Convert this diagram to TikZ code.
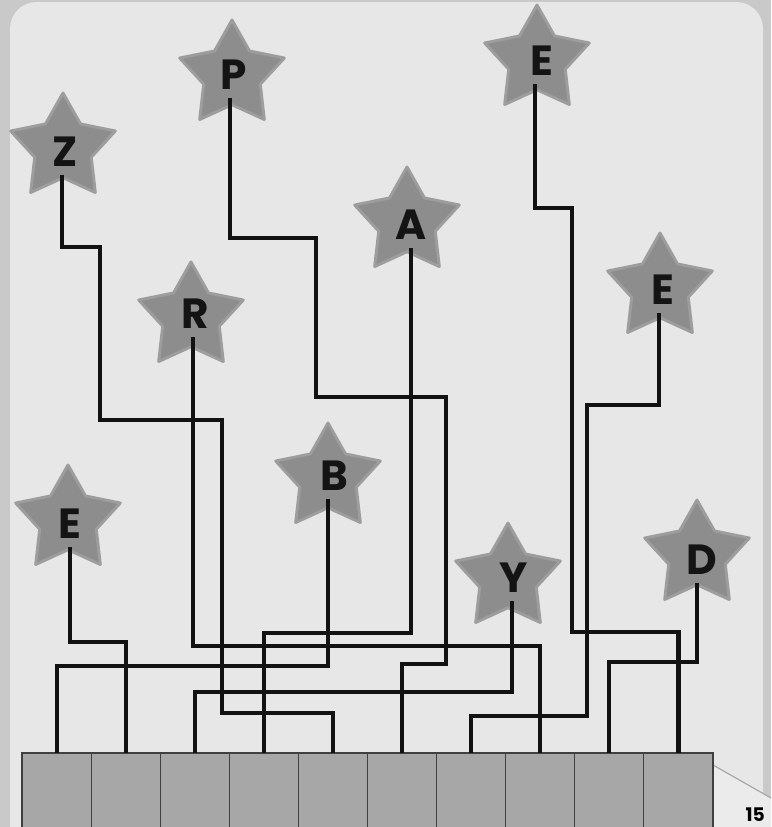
\documentclass[tikz,border=0pt]{standalone}
\usepackage{fontspec}
\usepackage{tikz}
\usetikzlibrary{shapes.geometric,positioning}
\newfontfamily\starfont{Poppins}
\definecolor{paper}{HTML}{E7E7E7}
\definecolor{frame}{HTML}{C9C9C9}
\definecolor{stargray}{HTML}{8D8D8D}
\definecolor{slotgray}{HTML}{A7A7A7}
\tikzset{
  every picture/.style={line join=miter},
  starbg/.style={star, star points=5, star point ratio=1.85, fill=stargray, draw=stargray!82!paper, line width=2.5pt, line join=round, minimum size=3.3cm, inner sep=0pt},
  letter/.style={font=\starfont\bfseries\fontsize{36}{36}\selectfont, text=black!92, text depth=0pt, inner sep=0pt},
  wire/.style={line width=3.5pt, black!93, shorten <=0.24cm},
  slot/.style={draw=black!75, line width=0.9pt, fill=slotgray, minimum width=2.073cm, minimum height=2.7cm, anchor=north, inner sep=0pt, outer sep=0pt},
}
\begin{document}
\begin{tikzpicture}[x=0.03cm,y=-0.03cm]
\useasboundingbox (0,0) rectangle (771,827);
\clip (0,0) rectangle (771,827);
\fill[frame] (0,0) rectangle (771,827);
\fill[paper, rounded corners=0.8cm] (10,2) rectangle (763,900);
\fill[white!92!black] (713,765) -- (771,798) -- (771,827) -- (713,827) -- cycle;
\draw[black!35, line width=1pt] (713,765) -- (771,798);

\node[starbg] (sP) at (232,75) {};
\node[starbg] (sZ) at (63,148) {};
\node[starbg] (sE3) at (537,60) {};
\node[starbg] (sA) at (407,222) {};
\node[starbg] (sE2) at (660,288) {};
\node[starbg] (sR) at (191,317) {};
\node[starbg] (sB) at (328,478) {};
\node[starbg] (sE1) at (68,520) {};
\node[starbg] (sY) at (508,578) {};
\node[starbg] (sD) at (697,555) {};

\node[letter] (lP) at (234,75) {P};
\node[letter] (lZ) at (65,152) {Z};
\node[letter] (lE3) at (542,61) {E};
\node[letter] (lA) at (411,225) {A};
\node[letter] (lE2) at (663,290) {E};
\node[letter] (lR) at (195,314) {R};
\node[letter] (lB) at (334,476) {B};
\node[letter] (lE1) at (70,524) {E};
\node[letter] (lY) at (514,578) {Y};
\node[letter] (lD) at (702,560) {D};

\foreach \i in {1,...,10}
  \node[slot] (b\i) at ({22+69.1*(\i-0.5)},753) {};

\draw[wire] ([xshift=-0.09cm]lZ.south) |- (100,247) |- (222,420) -- (222,713) -| (b5.north);
\draw[wire] ([xshift=-0.12cm]lP.south) |- (316,238) |- (446,397) -- (446,664) -| (b6.north);
\draw[wire] ([xshift=-0.21cm]lE3.south) |- (572,208) -- (572,632) -| (b10.north);
\draw[wire] (lA.south) |- (411,633) -| (b4.north);
\draw[wire] ([xshift=-0.12cm]lE2.south) |- (587,405) -- (587,716) -| (b7.north);
\draw[wire] ([xshift=-0.06cm]lR.south) |- (193,646) -| (b8.north);
\draw[wire] ([xshift=-0.18cm]lB.south) |- (328,666) -| (b1.north);
\draw[wire] (lE1.south) |- (70,642) -| (b2.north);
\draw[wire] ([xshift=-0.06cm]lY.south) |- (512,692) -| (b3.north);
\draw[wire] ([xshift=-0.15cm]lD.south) |- (697,662) -| (b9.north);

\node[anchor=south east, inner sep=0pt, font=\starfont\bfseries\fontsize{16}{16}\selectfont] (pageno) at (765,822) {15};
\end{tikzpicture}
\end{document}
